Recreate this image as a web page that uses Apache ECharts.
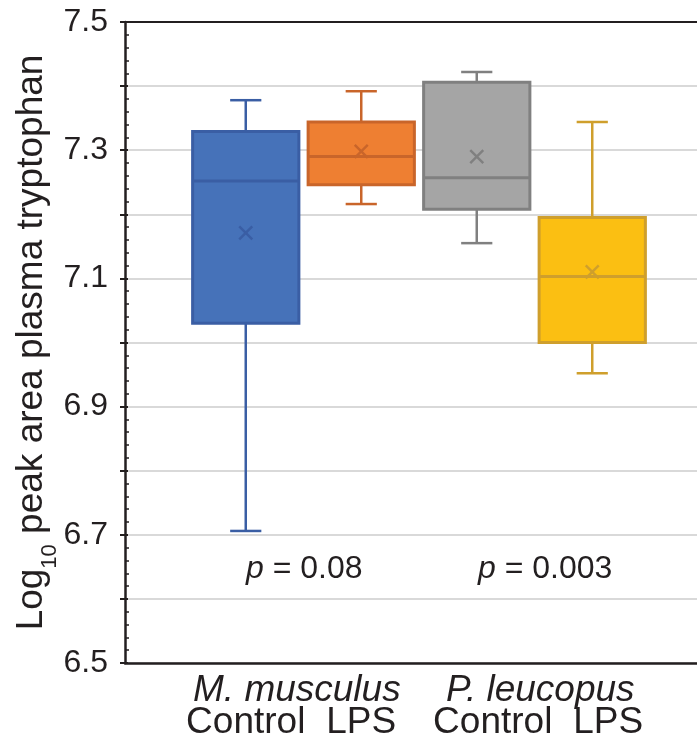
<!DOCTYPE html>
<html>
<head>
<meta charset="utf-8">
<script src="https://cdn.jsdelivr.net/npm/echarts@6/dist/echarts.min.js"></script>
<style>
html, body { margin: 0; padding: 0; background: #fff; }
#chart { width: 697px; height: 750px; }
</style>
</head>
<body>
<div id="chart"></div>
<script>
// data
var species = ['M. musculus', 'P. leucopus'];
var categories = ['Control', 'LPS', 'Control', 'LPS'];
var whiskerLow = [6.706, 7.216, 7.155, 6.952];
var q1 = [7.030, 7.246, 7.208, 7.000];
var median = [7.252, 7.290, 7.257, 7.103];
var q3 = [7.329, 7.344, 7.406, 7.195];
var whiskerHigh = [7.378, 7.392, 7.422, 7.344];
var mean = [7.171, 7.298, 7.290, 7.110];
var pValues = ['0.08', '0.003'];
var yLabelTicks = [6.5, 6.7, 6.9, 7.1, 7.3, 7.5];

// colours
var fills = ['#4672b9', '#ee7f32', '#a5a5a5', '#fbbf12'];
var edges = ['#3a5ea4', '#c9652a', '#808080', '#cf9f2c'];
var ink = '#231f20';
var font = '"Liberation Sans", Arial, sans-serif';

var boxData = [];
for (var i = 0; i < categories.length; i++) {
    boxData.push([i, whiskerLow[i], q1[i], median[i], q3[i], whiskerHigh[i], mean[i]]);
}

// draws one box: whiskers, caps, box, median and the mean cross
function renderBox(params, api) {
    var idx = params.dataIndex;
    var band = api.size([1, 0])[0];
    var boxW = band * 0.92;
    var capW = band * 0.27;
    var cross = 6.5;
    var pLow = api.coord([api.value(0), api.value(1)]);
    var pQ1 = api.coord([api.value(0), api.value(2)]);
    var pMed = api.coord([api.value(0), api.value(3)]);
    var pQ3 = api.coord([api.value(0), api.value(4)]);
    var pHigh = api.coord([api.value(0), api.value(5)]);
    var pMean = api.coord([api.value(0), api.value(6)]);
    var x = pMed[0];
    var ls = { stroke: edges[idx], lineWidth: 2.5, fill: null };
    return {
        type: 'group',
        children: [
            { type: 'line', shape: { x1: x, y1: pHigh[1], x2: x, y2: pQ3[1] }, style: ls },
            { type: 'line', shape: { x1: x, y1: pQ1[1], x2: x, y2: pLow[1] }, style: ls },
            { type: 'line', shape: { x1: x - capW / 2, y1: pHigh[1], x2: x + capW / 2, y2: pHigh[1] }, style: ls },
            { type: 'line', shape: { x1: x - capW / 2, y1: pLow[1], x2: x + capW / 2, y2: pLow[1] }, style: ls },
            {
                type: 'rect',
                shape: { x: x - boxW / 2, y: pQ3[1], width: boxW, height: pQ1[1] - pQ3[1] },
                style: { fill: fills[idx], stroke: edges[idx], lineWidth: 3 }
            },
            { type: 'line', shape: { x1: x - boxW / 2, y1: pMed[1], x2: x + boxW / 2, y2: pMed[1] }, style: { stroke: edges[idx], lineWidth: 3 } },
            { type: 'line', shape: { x1: x - cross, y1: pMean[1] - cross, x2: x + cross, y2: pMean[1] + cross }, style: ls },
            { type: 'line', shape: { x1: x - cross, y1: pMean[1] + cross, x2: x + cross, y2: pMean[1] - cross }, style: ls }
        ]
    };
}

var myChart = echarts.init(document.getElementById('chart'));

var option = {
    animation: false,
    backgroundColor: '#fff',
    grid: [
        { left: 125, right: 0, top: 22, bottom: 87 },     // frame + gridlines
        { left: 188, width: 462, top: 22, bottom: 87 }    // boxes
    ],
    xAxis: [
        {
            gridIndex: 0, type: 'value', min: 0, max: 1, position: 'bottom',
            axisLine: { show: true, lineStyle: { color: ink, width: 2.5 } },
            axisTick: { show: false }, axisLabel: { show: false }, splitLine: { show: false }
        },
        {
            gridIndex: 0, type: 'value', min: 0, max: 1, position: 'top',
            axisLine: { show: true, lineStyle: { color: ink, width: 2 } },
            axisTick: { show: false }, axisLabel: { show: false }, splitLine: { show: false }
        },
        {
            gridIndex: 1, type: 'category', data: categories, boundaryGap: true,
            axisLine: { show: false }, axisTick: { show: false },
            axisLabel: {
                interval: 0, margin: 41,
                fontFamily: font, fontSize: 37, color: ink,
                formatter: function (v, i) {
                    return i >= 2 ? '{gap|}' + v : v;
                },
                rich: { gap: { width: 32 } }
            }
        }
    ],
    yAxis: [
        {
            gridIndex: 0, type: 'value', min: 6.5, max: 7.5, interval: 0.1,
            name: '{a|Log}{s|10}{a| peak area plasma tryptophan}',
            nameLocation: 'middle', nameGap: 72, nameMoveOverlap: false,
            nameTextStyle: {
                rich: {
                    a: { fontFamily: font, fontSize: 37, color: ink, lineHeight: 42 },
                    s: { fontFamily: font, fontSize: 22, color: ink, lineHeight: 42, verticalAlign: 'bottom', padding: [0, 0, -8, 0] }
                }
            },
            axisLine: { show: true, lineStyle: { color: ink, width: 2.5 } },
            axisTick: { show: true, length: 5, lineStyle: { color: ink, width: 2 } },
            axisLabel: {
                margin: 17, fontFamily: font, fontSize: 32, color: ink,
                formatter: function (v) {
                    var k = Math.round(v * 10);
                    for (var j = 0; j < yLabelTicks.length; j++) {
                        if (Math.round(yLabelTicks[j] * 10) === k) return v.toFixed(1);
                    }
                    return '';
                }
            },
            splitLine: { show: true, lineStyle: { color: '#d9d9d9', width: 2 } }
        },
        {
            // inner half of the major ticks and the minor ticks
            gridIndex: 0, type: 'value', min: 6.5, max: 7.5, interval: 0.1, position: 'left',
            axisLine: { show: false },
            axisTick: { show: true, inside: true, length: 3, lineStyle: { color: ink, width: 2 } },
            minorTick: { show: true, splitNumber: 5, length: 4, lineStyle: { color: ink, width: 1.5 } },
            axisLabel: { show: false }, splitLine: { show: false }
        },
        {
            gridIndex: 1, type: 'value', min: 6.5, max: 7.5, show: false
        }
    ],
    series: [{
        type: 'custom',
        xAxisIndex: 2,
        yAxisIndex: 2,
        renderItem: renderBox,
        encode: { x: 0, y: [1, 2, 3, 4, 5, 6] },
        data: boxData,
        z: 5
    }],
    graphic: [
        {
            type: 'text', left: 193, top: 672,
            style: { text: species[0], font: 'italic 37px ' + font, fill: ink }
        },
        {
            type: 'text', left: 446, top: 672,
            style: { text: species[1], font: 'italic 37px ' + font, fill: ink }
        },
        {
            type: 'text', left: 246, top: 553,
            style: {
                text: '{i|p} = ' + pValues[0], font: '32px ' + font, fill: ink,
                rich: { i: { font: 'italic 32px ' + font, fill: ink } }
            }
        },
        {
            type: 'text', left: 478, top: 553,
            style: {
                text: '{i|p} = ' + pValues[1], font: '32px ' + font, fill: ink,
                rich: { i: { font: 'italic 32px ' + font, fill: ink } }
            }
        }
    ]
};

myChart.setOption(option);
</script>
</body>
</html>
